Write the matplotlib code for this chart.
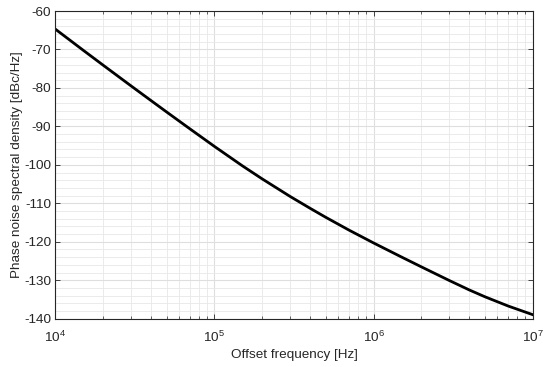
import numpy as np
import matplotlib
matplotlib.use("Agg")
import matplotlib.pyplot as plt
from matplotlib.ticker import LogLocator, MultipleLocator, NullFormatter, FixedLocator

plt.rcParams['font.family'] = ['Liberation Sans', 'DejaVu Sans']
plt.rcParams['mathtext.fontset'] = 'custom'
plt.rcParams['mathtext.rm'] = 'Liberation Sans'
plt.rcParams['mathtext.it'] = 'Liberation Sans:italic'
plt.rcParams['mathtext.bf'] = 'Liberation Sans:bold'
plt.rcParams['axes.unicode_minus'] = False

# Data
freq_hz = [1e4, 1.5e4, 2e4, 3e4, 4e4, 5e4, 7e4, 1e5, 1.5e5, 2e5, 3e5, 4e5,
           5e5, 7e5, 1e6, 1.5e6, 2e6, 3e6, 4e6, 5e6, 7e6, 1e7]
psd_dbc = [-64.70, -70.22, -74.09, -79.50, -83.30, -86.23, -90.61, -95.20,
           -100.26, -103.67, -108.25, -111.31, -113.62, -116.95, -120.30,
           -123.97, -126.53, -130.09, -132.53, -134.28, -136.69, -138.95]

xlabel = "Offset frequency [Hz]"
ylabel = "Phase noise spectral density [dBc/Hz]"
y_ticks = [-140, -130, -120, -110, -100, -90, -80, -70, -60]

fig = plt.figure(figsize=(5.5, 3.67), dpi=100)
ax = fig.add_axes([0.1005, 0.1316, 0.8680, 0.8384])

ax.semilogx(freq_hz, psd_dbc, color='black', lw=2.0, solid_joinstyle='round')

ax.set_xlim(1e4, 1e7)
ax.set_ylim(-140, -60)
ax.yaxis.set_major_locator(FixedLocator(y_ticks))
ax.yaxis.set_minor_locator(MultipleLocator(2))
ax.xaxis.set_major_locator(LogLocator(base=10, numticks=10))
ax.xaxis.set_minor_locator(LogLocator(base=10, subs=np.arange(2, 10), numticks=20))
ax.xaxis.set_minor_formatter(NullFormatter())

ax.grid(True, which='major', color='#dedede', lw=0.8)
ax.grid(True, which='minor', color='#e8e8e8', lw=0.6)
ax.set_axisbelow(True)

for s in ax.spines.values():
    s.set_color('#262626')
    s.set_linewidth(0.8)

fs = 9.7
ax.tick_params(which='both', direction='in', top=True, right=True,
               colors='#262626', labelsize=fs, labelcolor='#262626')
ax.tick_params(which='major', length=3.5, width=0.6)
ax.tick_params(which='minor', length=2, width=0.5)
ax.tick_params(axis='y', which='minor', length=0)
ax.tick_params(axis='x', which='major', pad=8)
ax.tick_params(axis='y', which='major', pad=3)

ax.set_xlabel(xlabel, fontsize=fs, color='#262626', labelpad=3)
ax.set_ylabel(ylabel, fontsize=fs, color='#262626', labelpad=1)

fig.savefig("out.png", dpi=100)
